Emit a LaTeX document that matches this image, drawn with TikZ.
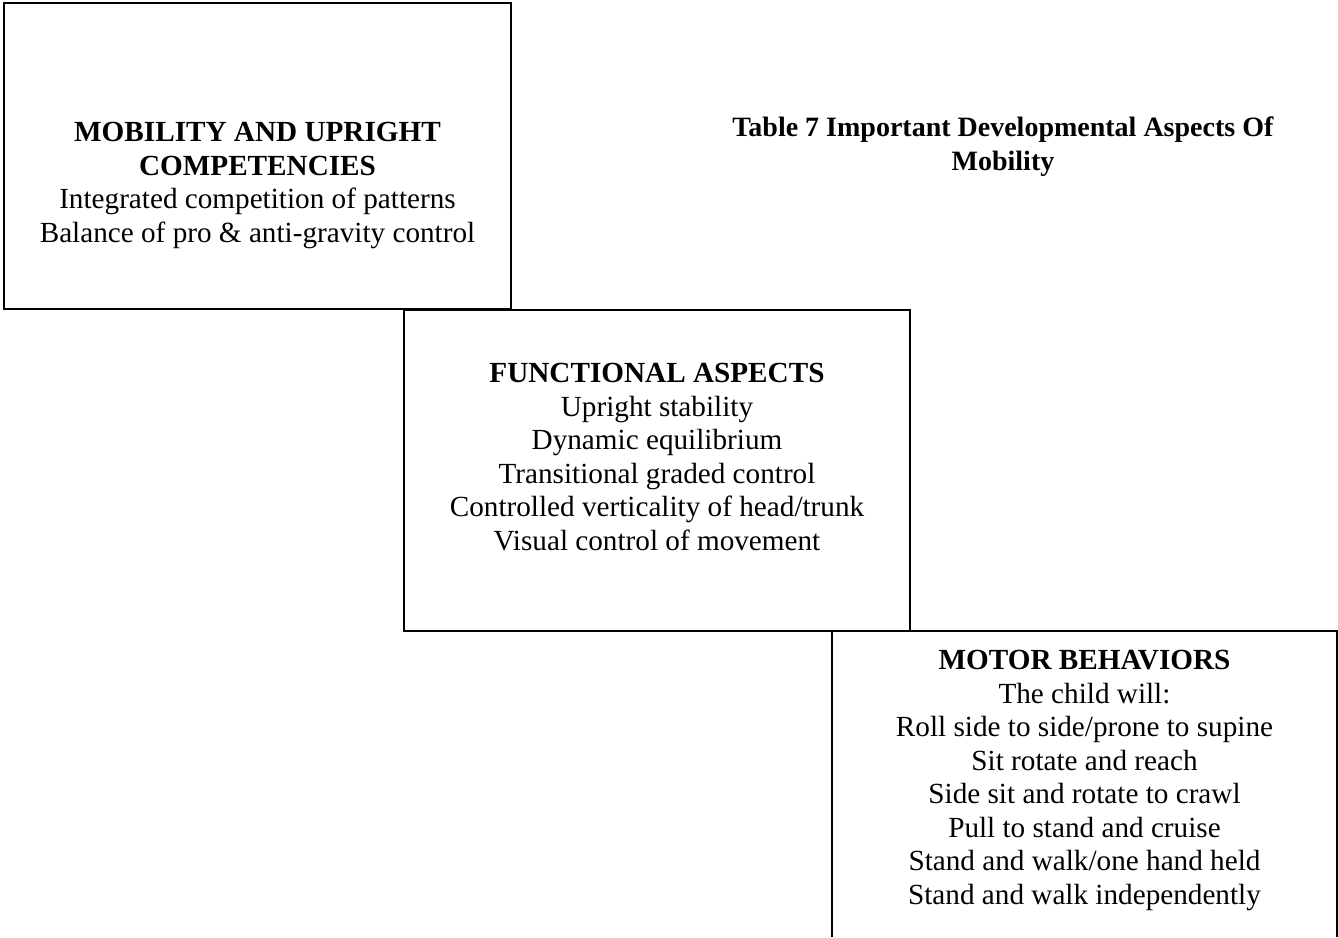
\documentclass[tikz,border=0pt]{standalone}
\usepackage{fontspec}
\setmainfont{Liberation Serif}
\usetikzlibrary{positioning}
\begin{document}
\begin{tikzpicture}[x=0.5pt,y=-0.5pt,
  boxline/.style={line width=0.9pt},
  boxtext/.style={align=center,anchor=base,inner sep=0pt,
    font=\fontsize{14.6}{16.75}\selectfont}]
\useasboundingbox (0,0) rectangle (1338,937);
% the three boxes, stepping down to the right
\draw[boxline] (4,3) rectangle (511,309);
\draw[boxline] (404,310) rectangle (910,631);
\draw[boxline] (832,937) -- (832,631) -- (1337,631) -- (1337,937);
% texts (base = baseline of the last line)
\node[boxtext] (mobility) at (257.5,242) {\textbf{MOBILITY AND UPRIGHT}\\
  \textbf{COMPETENCIES}\\
  Integrated competition of patterns\\
  Balance of pro \& anti-gravity control};
\node[boxtext,font=\fontsize{14}{16.75}\selectfont] (caption) at (1003,170)
  {\textbf{Table 7 Important Developmental Aspects Of}\\
  \textbf{Mobility}};
\node[boxtext] (functional) at (657,550) {\textbf{FUNCTIONAL ASPECTS}\\
  Upright stability\\
  Dynamic equilibrium\\
  Transitional graded control\\
  Controlled verticality of head/trunk\\
  Visual control of movement};
\node[boxtext] (motor) at (1084.5,904) {\textbf{MOTOR BEHAVIORS}\\
  The child will:\\
  Roll side to side/prone to supine\\
  Sit rotate and reach\\
  Side sit and rotate to crawl\\
  Pull to stand and cruise\\
  Stand and walk/one hand held\\
  Stand and walk independently};
\end{tikzpicture}
\end{document}
